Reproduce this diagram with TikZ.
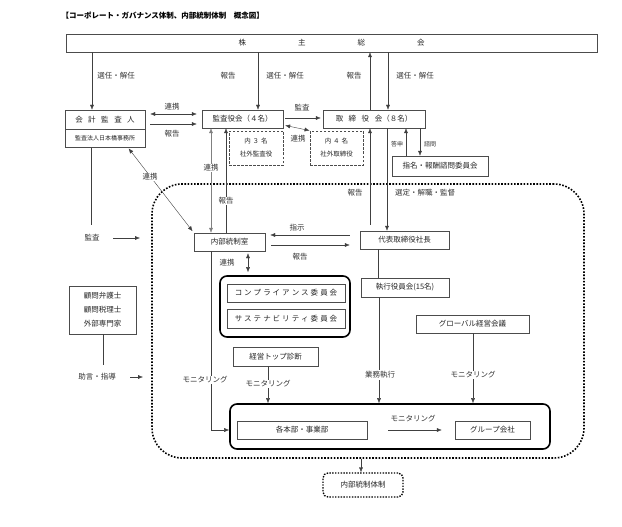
\documentclass[tikz,border=0pt]{standalone}
\usepackage{fontspec}
\setmainfont{Noto Sans CJK JP}
\usetikzlibrary{arrows.meta, positioning, calc}

\newcommand{\wgap}{\hspace{5.5pt}}
\newcommand{\ngap}{\hspace{2pt}}

\tikzset{
  box/.style={draw=black!70, inner sep=0pt, font=\fontsize{7.5}{8}\selectfont, text=black!85},
  dbox/.style={box, dash pattern=on 2.5pt off 1.5pt, line width=0.9pt},
  grp/.style={draw=black, line width=1.6pt, rounded corners=7pt, inner sep=0pt},
  arr/.style={draw=black!75, -{Latex[length=5pt,width=4pt]}},
  darr/.style={draw=black!75, {Latex[length=5pt,width=4pt]}-{Latex[length=5pt,width=4pt]}},
  lbl/.style={font=\fontsize{7.5}{8}\selectfont, text=black!80, fill=white, inner sep=1pt},
}

\begin{document}
\begin{tikzpicture}[x=1pt, y=-1pt]
    \useasboundingbox[fill=white] (0,0) rectangle (622,527);

    % Title
    \node[anchor=west, font=\fontsize{7.5}{9}\selectfont\bfseries] (title) at (58,16)
        {【コーポレート・ガバナンス体制、内部統制体制　概念図】};

    % Shareholders and top row
    \node[box, minimum width=531pt, minimum height=18pt] (kabunushi) at (331.5,43)
        {株\hspace{52pt}主\hspace{52pt}総\hspace{52pt}会};
    \node[box, minimum width=80pt, minimum height=19pt] (kaikei) at (105,119.5)
        {会\wgap 計\wgap 監\wgap 査\wgap 人};
    \node[box, minimum width=80pt, minimum height=18pt, font=\fontsize{6}{7}\selectfont,
        below=0pt of kaikei] (kaikeisub) {監査法人日本橋事務所};
    \node[box, minimum width=81pt, minimum height=18pt] (kansayaku) at (242.5,119) {監査役会（４名）};
    \node[box, minimum width=102pt, minimum height=18pt] (torishimari) at (374,119)
        {取\wgap 締\wgap 役\wgap 会（８名）};
    \node[dbox, minimum width=54pt, minimum height=34pt, align=center, font=\fontsize{6.5}{13}\selectfont]
        (uchi3) at (256,148) {内\ngap ３\ngap 名\\社外監査役};
    \node[dbox, minimum width=53pt, minimum height=34pt, align=center, font=\fontsize{6.5}{13}\selectfont]
        (uchi4) at (336.5,148) {内\ngap ４\ngap 名\\社外取締役};
    \node[box, minimum width=96pt, minimum height=20pt] (shimei) at (440,166) {指名・報酬諮問委員会};

    % Internal control area
    \node[draw=black, line width=1.6pt, dash pattern=on 1.6pt off 1.6pt, rounded corners=30pt,
        minimum width=432pt, minimum height=274pt, inner sep=0pt] (waku) at (368,321) {};
    \node[box, minimum width=71pt, minimum height=18pt] (naibu) at (229.5,242) {内部統制室};
    \node[box, minimum width=89pt, minimum height=18pt] (daihyo) at (404.5,240) {代表取締役社長};
    \node[box, minimum width=88pt, minimum height=19pt] (shikko) at (405,287.5) {執行役員会(15名)};
    \node[box, minimum width=113pt, minimum height=18pt] (global) at (472.5,324) {グローバル経営会議};
    \node[grp, minimum width=130pt, minimum height=61pt] (compgrp) at (285,306.5) {};
    \node[box, minimum width=118pt, minimum height=18pt] (comp) at (286,293)
        {コ\ngap ン\ngap プ\ngap ラ\ngap イ\ngap ア\ngap ン\ngap ス\ngap 委\ngap 員\ngap 会};
    \node[box, minimum width=118pt, minimum height=19pt] (sust) at (286,318.5)
        {サ\ngap ス\ngap テ\ngap ナ\ngap ビ\ngap リ\ngap テ\ngap ィ\ngap 委\ngap 員\ngap 会};
    \node[box, minimum width=85pt, minimum height=19pt] (keiei) at (275.5,356.5) {経営トップ診断};
    \node[grp, minimum width=320pt, minimum height=45pt] (honbugrp) at (390,426.5) {};
    \node[box, minimum width=130pt, minimum height=18pt] (honbu) at (302,430) {各本部・事業部};
    \node[box, minimum width=75pt, minimum height=18pt] (kaisha) at (492.5,430) {グループ会社};

    % Outside advisers and result
    \node[box, minimum width=67pt, minimum height=48pt, align=center, font=\fontsize{7.5}{14}\selectfont]
        (komon) at (102.5,310) {顧問弁護士\\顧問税理士\\外部専門家};
    \node[box, draw=black, line width=1.4pt, dash pattern=on 1.4pt off 1.4pt, rounded corners=5pt,
        minimum width=80pt, minimum height=24pt] (taisei) at (363,485) {内部統制体制};

    \coordinate (kansaA) at (113,238);
    \coordinate (kansaB) at (140,238);
    \coordinate (jogenA) at (130,377);
    \coordinate (jogenB) at (143,377);

    % Connectors
    \draw[arr] (kabunushi.south -| 92,0) -- (kaikei.north -| 92,0);
    \draw[arr] (kabunushi.south -| 258,0) -- (kansayaku.north -| 258,0);
    \draw[arr] (torishimari.north -| 370,0) -- (kabunushi.south -| 370,0);
    \draw[arr] (kabunushi.south -| 388,0) -- (torishimari.north -| 388,0);
    \draw[darr, shorten <=5pt, shorten >=5pt] (kaikei.east |- 0,114) -- (kansayaku.west |- 0,114);
    \draw[arr, shorten <=5pt, shorten >=5pt] (kaikei.east |- 0,124) -- (kansayaku.west |- 0,124);
    \draw[arr, shorten <=2pt, shorten >=2pt] (kansayaku.east |- 0,118) -- (torishimari.west |- 0,118);
    \draw[darr, shorten <=2pt] (kansayaku.east |- 0,125) -- (uchi4.north west);
    \draw[arr] (shimei.north -| 406,0) -- (torishimari.south -| 406,0);
    \draw[arr] (torishimari.south -| 420,0) -- (shimei.north -| 420,0);
    \draw[darr, shorten <=1pt, shorten >=2pt] (kaikeisub.south -| 128,0) -- (naibu.north west);
    \draw[darr, draw=black!50] (kansayaku.south -| 211,0) -- (naibu.north -| 211,0);
    \draw[arr] (naibu.north -| 226,0) -- (kansayaku.south -| 226,0);
    \draw[arr, shorten <=6pt] (daihyo.north -| 370,0) -- (torishimari.south -| 370,0);
    \draw[arr] (torishimari.south -| 387,0) -- (daihyo.north -| 387,0);
    \draw[arr, shorten <=10pt, shorten >=5pt] (daihyo.west |- 0,235) -- (naibu.east |- 0,235);
    \draw[arr, shorten <=6pt, shorten >=10pt] (naibu.east |- 0,245) -- (daihyo.west |- 0,245);
    \draw[darr, shorten <=2pt, shorten >=3pt] (naibu.south -| 248,0) -- (compgrp.north -| 248,0);
    \draw[draw=black!75] (daihyo.south -| 378,0) -- (shikko.north -| 378,0);
    \draw[arr] (shikko.south -| 379,0) -- (honbugrp.north -| 379,0);
    \draw[arr] (global.south -| 473,0) -- (honbugrp.north -| 473,0);
    \draw[arr] (keiei.south -| 268,0) -- (honbugrp.north -| 268,0);
    \draw[arr] (naibu.south -| 211,0) |- (honbugrp.west |- 0,430);
    \draw[arr, shorten <=21pt, shorten >=13pt] (honbu.east) -- (kaisha.west);
    \draw[arr] (waku.south -| 361,0) -- (taisei.north -| 361,0);
    \draw[draw=black!75] (kaikeisub.south -| 91,0) -- (91,225);
    \draw[arr] (kansaA) -- (kansaB);
    \draw[draw=black!75] (komon.south -| 103,0) -- (103,365);
    \draw[arr] (jogenA) -- (jogenB);

    % Labels
    \node[lbl] (l1) at (116,76) {選任・解任};
    \node[lbl] (l2) at (228,76) {報告};
    \node[lbl] (l3) at (285,76) {選任・解任};
    \node[lbl] (l4) at (354,76) {報告};
    \node[lbl] (l5) at (415,76) {選任・解任};
    \node[lbl] (l6) at (172,107) {連携};
    \node[lbl] (l7) at (172,134) {報告};
    \node[lbl] (l8) at (302,108) {監査};
    \node[lbl] (l9) at (298,139) {連携};
    \node[lbl, font=\fontsize{6}{7}\selectfont] (l10) at (397,144) {答申};
    \node[lbl, font=\fontsize{6}{7}\selectfont] (l11) at (430,144) {諮問};
    \node[lbl] (l12) at (150,177) {連携};
    \node[lbl] (l13) at (211,168) {連携};
    \node[lbl] (l14) at (226,201) {報告};
    \node[lbl] (l15) at (355,193) {報告};
    \node[lbl] (l16) at (425,193) {選定・解職・監督};
    \node[lbl] (l17) at (92,238) {監査};
    \node[lbl] (l18) at (297,228) {指示};
    \node[lbl] (l19) at (300,257) {報告};
    \node[lbl] (l20) at (227,263) {連携};
    \node[lbl] (l21) at (97,377) {助言・指導};
    \node[lbl] (l22) at (205,380) {モニタリング};
    \node[lbl] (l23) at (268,384) {モニタリング};
    \node[lbl] (l24) at (380,375) {業務執行};
    \node[lbl] (l25) at (473,375) {モニタリング};
    \node[lbl] (l26) at (413,419) {モニタリング};
\end{tikzpicture}
\end{document}
